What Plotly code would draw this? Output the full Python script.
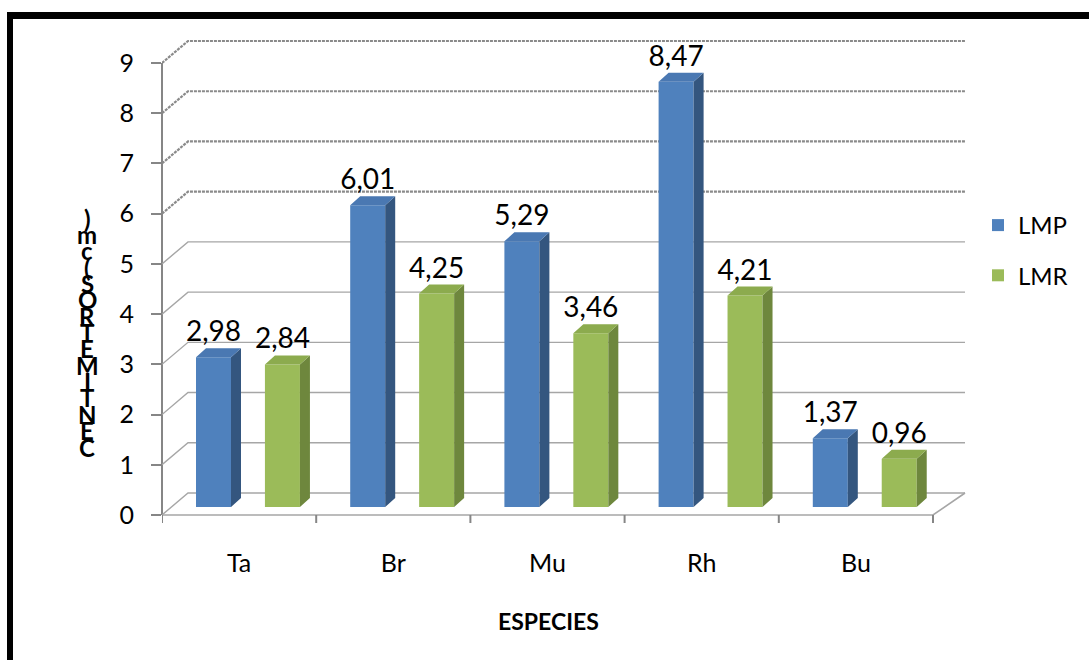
import plotly.graph_objects as go

# ---- data -------------------------------------------------------------
categories = ["Ta", "Br", "Mu", "Rh", "Bu"]
lmp = [2.98, 6.01, 5.29, 8.47, 1.37]
lmr = [2.84, 4.25, 3.46, 4.21, 0.96]
y_ticks = list(range(10))
series_names = ["LMP", "LMR"]
y_title = "CENTIMETROS (cm)"
x_title = "ESPECIES"

# ---- canvas / pseudo-3D geometry --------------------------------------
W, H = 1089, 660
L, R, T, B = 162, 975, 35, 530          # plot area in pixels
PX_X = 154.2                            # pixels per category
PX_Y = 50.22                            # pixels per y unit
Y0 = 515                                # pixel row of y = 0 (front)

x_range = [0, (R - L) / PX_X]
y_range = [(Y0 - B) / PX_Y, (Y0 - T) / PX_Y]

def ux(px):
    return px / PX_X

def uy(px):
    return px / PX_Y

def paper_x(px):
    return (px - L) / (R - L)

def paper_y(py):
    return (B - py) / (B - T)

FONT = "Lato, 'Open Sans', sans-serif"

wall_dx, wall_dy = ux(26), uy(22)       # depth of the back wall
wall_end = ux(965 - L)
bar_w = ux(35)
bar_dx, bar_dy = ux(10), uy(9)          # depth of each bar
bar_base = uy(8)
offsets = [0.334, 0.781]

front_cols = ["#4F81BD", "#9BBB59"]
side_cols = ["#34567F", "#6E873D"]
top_cols = ["#4A78B2", "#8CAB4E"]

fig = go.Figure()

# ---- back wall gridlines, floor and axes ------------------------------
shapes = []
for v in y_ticks:
    heavy = v >= 6
    shapes.append(dict(
        type="path", xref="x", yref="y", layer="below",
        path=f"M 0,{v} L {wall_dx},{v + wall_dy} L {wall_end},{v + wall_dy}",
        line=dict(color="#8a8a8a" if heavy else "#a6a6a6",
                  width=2.2 if heavy else 1.4,
                  dash="3px,1px" if heavy else "solid"),
    ))
n = len(categories)
shapes.append(dict(
    type="path", xref="x", yref="y", layer="below",
    path=f"M 0,0 L {n},0 L {wall_end},{wall_dy}",
    line=dict(color="#a6a6a6", width=1.6),
))
for i in range(n + 1):
    shapes.append(dict(
        type="line", xref="x", yref="y", layer="below",
        x0=i, x1=i, y0=0, y1=-uy(8),
        line=dict(color="#868686", width=2),
    ))
shapes.append(dict(
    type="line", xref="paper", yref="y", layer="below",
    x0=0, x1=0, y0=y_ticks[0], y1=y_ticks[-1],
    line=dict(color="#868686", width=2),
))
# frame lines on the top and left edges
shapes.append(dict(type="rect", xref="paper", yref="paper", layer="above",
                   x0=paper_x(7), x1=paper_x(W + 5), y0=paper_y(19), y1=paper_y(12),
                   fillcolor="black", line=dict(width=0)))
shapes.append(dict(type="rect", xref="paper", yref="paper", layer="above",
                   x0=paper_x(7), x1=paper_x(13), y0=paper_y(H + 5), y1=paper_y(12),
                   fillcolor="black", line=dict(width=0)))

# ---- bars -------------------------------------------------------------
for k, (name, vals) in enumerate(zip(series_names, [lmp, lmr])):
    xs = [i + offsets[k] for i in range(n)]
    fig.add_trace(go.Bar(
        x=xs, y=vals, base=bar_base, width=bar_w,
        marker=dict(color=front_cols[k], line=dict(width=0)),
        showlegend=False, hoverinfo="skip",
    ))
    sx, sy, tx, ty = [], [], [], []
    for x, v in zip(xs, vals):
        xl, xr = x - bar_w / 2, x + bar_w / 2
        y1 = bar_base + v
        sx += [xr, xr + bar_dx, xr + bar_dx, xr, xr, None]
        sy += [bar_base, bar_base + bar_dy, y1 + bar_dy, y1, bar_base, None]
        tx += [xl, xr, xr + bar_dx, xl + bar_dx, xl, None]
        ty += [y1, y1, y1 + bar_dy, y1 + bar_dy, y1, None]
    fig.add_trace(go.Scatter(x=sx, y=sy, fill="toself", mode="lines",
                             fillcolor=side_cols[k], line=dict(width=0),
                             showlegend=False, hoverinfo="skip"))
    fig.add_trace(go.Scatter(x=tx, y=ty, fill="toself", mode="lines",
                             fillcolor=top_cols[k], line=dict(width=0),
                             showlegend=False, hoverinfo="skip"))
    # value labels
    fig.add_trace(go.Scatter(
        x=xs, y=[v + bar_base + bar_dy for v in vals], mode="text",
        text=[f"{v:.2f}".replace(".", ",") for v in vals],
        textposition="top center",
        textfont=dict(family=FONT, size=28, color="black"),
        cliponaxis=False, showlegend=False, hoverinfo="skip",
    ))

# legend entries
for k, name in enumerate(series_names):
    fig.add_trace(go.Scatter(
        x=[None], y=[None], mode="markers", name=name,
        marker=dict(symbol="square", size=16, color=front_cols[k]),
        legendgroup=name,
    ))

# ---- vertical y-axis title, one glyph per row (spaces collapsed) ------
annotations = []
glyphs = [ch for ch in y_title if ch != " "]
step = (447 - 218) / (len(glyphs) - 1)
for j, ch in enumerate(glyphs):
    annotations.append(dict(
        xref="paper", yref="paper", x=paper_x(87), y=paper_y(447 - j * step),
        text=f"<b>{ch}</b>", showarrow=False, xanchor="center", yanchor="middle",
        font=dict(family=FONT, size=24, color="black"),
    ))
annotations.append(dict(
    xref="paper", yref="paper", x=paper_x(548), y=paper_y(621),
    text=f"<b>{x_title}</b>", showarrow=False, xanchor="center", yanchor="middle",
    font=dict(family=FONT, size=23, color="black"),
))

fig.update_layout(
    width=W, height=H,
    margin=dict(l=L, r=W - R, t=T, b=H - B, pad=0),
    paper_bgcolor="white", plot_bgcolor="white",
    barmode="overlay",
    shapes=shapes, annotations=annotations,
    showlegend=True,
    legend=dict(
        x=paper_x(978), y=paper_y(203), xanchor="left", yanchor="top",
        font=dict(family=FONT, size=24, color="black"),
        traceorder="grouped", tracegroupgap=16,
        bgcolor="rgba(0,0,0,0)", itemsizing="constant",
    ),
    xaxis=dict(
        range=x_range, showgrid=False, zeroline=False, showline=False,
        tickmode="array", tickvals=[i + 0.5 for i in range(n)], ticktext=categories,
        ticks="", ticklabelstandoff=16,
        tickfont=dict(family=FONT, size=25, color="black"),
    ),
    yaxis=dict(
        range=y_range, showgrid=False, zeroline=False, showline=False,
        tickmode="array", tickvals=y_ticks, ticktext=[str(v) for v in y_ticks],
        ticks="outside", ticklen=10, tickwidth=2, tickcolor="#868686",
        ticklabelstandoff=12,
        tickfont=dict(family=FONT, size=25, color="black"),
    ),
)

fig.write_html("out.html")
